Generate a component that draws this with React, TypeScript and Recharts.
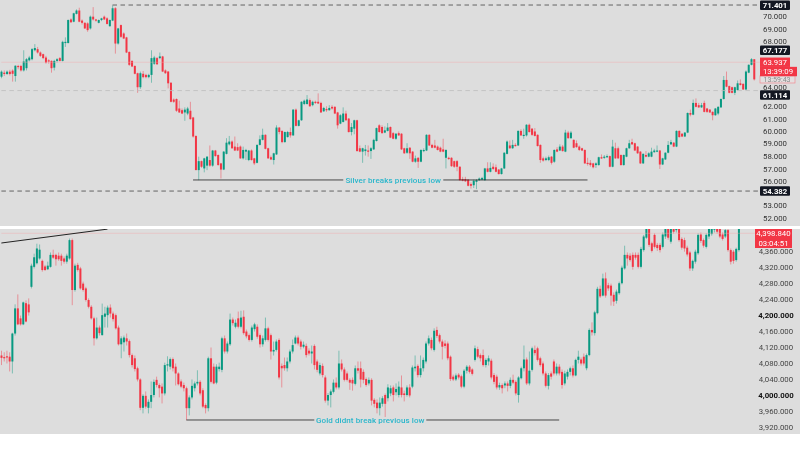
import { Bar, ComposedChart, ReferenceLine, XAxis, YAxis } from "recharts";

// rows are [open, close, high, low]
const SILVER_CANDLES = [
  [64.64,65.09,65.2,64.5],[65,64.88,65.2,64.7],[64.88,65.09,65.2,64.8],[65.09,64.88,65.25,64.75],[65.18,64.9,65.3,64.2],
  [64.7,65.62,65.65,64.2],[65.6,65.5,65.7,65.3],[65.6,65.2,65.7,65.1],[65.2,66,67,65.1],[65.4,66.2,66.3,65.2],
  [66.1,66.35,66.5,66],[66.2,67.1,67.2,66.1],[67,67.2,67.55,66.9],[67.1,66.8,67.3,66.7],[66.8,66.5,66.9,66.4],
  [66.65,66.3,66.7,66.2],[66.35,65.9,66.5,65.8],[66.1,66,66.2,65.8],[66.05,65.4,66.1,65],[65.45,66.05,66.15,65.2],
  [66.05,66.2,66.3,65.9],[66.3,66.05,66.4,66],[66.05,67.75,67.85,66],[67.65,67.75,68.15,67.3],[67.65,69.7,69.75,67.6],
  [69.75,69.5,69.85,69.45],[69.55,70.3,70.35,69.5],[70.25,70.55,70.65,70.2],[70.55,69.55,70.8,69.5],[69.65,69.45,69.75,69.3],
  [69.45,68.95,69.5,68.9],[69.4,68.8,69.5,68.65],[68.95,70,70.1,68.85],[70,69.75,70.85,69.65],[69.75,69.65,69.8,69.55],
  [69.45,69.7,69.75,69.4],[69.7,69.85,69.9,69.6],[70,69.75,70.1,69.7],[69.85,69.35,69.95,69.3],[69.15,69.7,69.75,69.1],
  [69.65,70.75,71,69.6],[70.75,67.6,70.85,66.7],[67.6,68.95,69,67.5],[69.25,68.2,69.3,68.1],[68.5,68.05,68.6,68],
  [68.15,66.8,68.2,66.75],[66.85,65.7,66.9,65.6],[66.05,65.55,66.1,65.5],[65.6,64.9,65.65,64.85],[64.95,63.7,65,63.2],
  [63.7,64.95,65.1,63.55],[64.9,64.6,65.15,64.5],[64.8,64.6,64.9,64.5],[64.6,64.8,64.9,64.5],[64.8,66.3,67,64.1],
  [65.8,66.35,66.5,65.7],[66.3,65.75,66.4,65.7],[66.3,66.45,66.8,66.2],[66.45,65.1,66.5,65.05],[65.2,64.95,65.3,64.9],
  [65.1,64.05,65.15,63.6],[64.1,62.4,64.15,62.35],[62.6,62.4,62.7,62.3],[62.65,61.6,62.7,61.5],[61.8,61.45,62.5,61.4],
  [61.65,61.35,61.8,61.3],[61.45,61.7,61.9,60.7],[61.35,61.8,61.95,61.2],[61.6,60.85,62.4,60.8],[61,59.3,61.05,59.2],
  [59.35,56.3,59.4,56.3],[56.3,57.1,57.5,55.4],[57.1,56.6,57.15,56.5],[56.45,57.35,57.4,56.1],[56.7,57.5,57.55,56.3],
  [57.2,56.7,58.5,56.6],[56.7,58.05,58.1,56.6],[58.05,57.55,58.1,57.5],[57.65,56.75,57.7,56.7],[56.9,56.35,56.95,55.55],
  [56.35,57.95,58,56.3],[57.75,58.75,59.15,57.7],[58.6,58.85,59.35,58.5],[58.85,58.25,58.95,58.2],[58.4,58.05,59.3,58],
  [58.35,58.05,58.7,58],[58.4,57.35,58.5,57.3],[57.35,58.1,58.4,57.25],[57.95,58.1,58.2,57.2],[57.2,58.05,58.1,57.1],
  [58.05,57.2,58.15,57.15],[57.35,56.9,57.4,56.75],[56.95,58.55,58.6,56.9],[58.55,59.05,59.4,58.5],[59,59.45,60,58.95],
  [59.45,58.2,59.5,58.15],[58.25,57.35,58.3,57.3],[57.45,57.25,57.6,57.2],[57.2,57.8,57.85,56.8],[57.7,60.1,60.3,57.65],
  [60.1,59.7,60.15,59.5],[59.8,58.8,59.85,58.7],[58.8,59.7,59.75,58.75],[59.25,59.7,59.8,59.2],[59.7,59.4,60.1,59.2],
  [59.4,61.7,61.75,59.35],[61.7,60.25,61.8,60.2],[60.25,60.75,60.8,60.2],[60.75,62.4,62.45,60.7],[62.2,62.5,62.6,62.1],
  [62.2,62.6,63,62.15],[62.55,62,62.7,61.95],[62.1,62.4,62.5,62],[62.4,62.3,62.5,62.2],[62.4,62.25,63.15,62.2],
  [62.3,61.45,62.4,61.4],[61.55,61.85,61.95,61.5],[61.75,61.65,62,61.5],[61.65,61.85,62.1,61.6],[61.95,61.8,62.1,61.7],
  [61.95,61.35,62,61.3],[61.45,60.3,61.5,60],[60.45,61.2,61.3,60.4],[60.6,61.35,61.9,60.55],[61.35,60.75,61.6,60.7],
  [60.9,59.7,60.95,59.65],[59.7,60.15,60.5,59.4],[60,60.75,60.8,59.5],[60.75,58,60.8,57.95],[58.25,57.95,58.5,57.9],
  [57.95,58.25,58.3,56.95],[58,58.15,58.55,57.6],[58.05,57.95,58.5,57.5],[58,58.25,58.35,57.3],[58.15,59,59.1,58.1],
  [58.9,60.05,60.1,58.85],[60.3,59.7,60.4,59.65],[60.15,59.6,60.3,59.55],[59.65,59.85,60.2,59.6],[59.8,60.1,60.5,59.75],
  [60.15,59.2,60.2,59.15],[59.6,59.1,59.7,59.05],[59.1,59.55,59.6,59],[59.6,59.4,59.75,59.35],[59.55,58.15,59.6,58.1],
  [58.25,57.8,58.3,57.75],[57.85,58.25,58.7,57.75],[58.3,57.8,58.35,57.3],[57.95,57.05,58,57],[57.05,57.35,57.6,56.95],
  [57.4,57.05,57.45,56.5],[57.05,58.1,58.15,57],[58.05,58.1,58.25,57.9],[58.05,59.45,59.5,58],[59.45,58.5,59.5,58.45],
  [58.55,58.3,58.65,58.25],[58.5,58.3,59,58.25],[58.4,58.1,58.5,58.05],[58.3,57.95,58.4,57.9],[58.15,57.95,59.1,57.9],
  [57.4,58.1,58.15,56.45],[57.4,57.3,57.5,57.2],[57.4,56.65,57.45,56.6],[57.1,56.6,57.15,56.5],[57.1,56.6,57.2,56.2],
  [56.6,55.4,56.65,55.35],[55.5,55.35,55.7,55.3],[55.5,55.3,55.7,55.25],[55.45,54.9,55.5,54.85],[55.05,54.9,55.2,54.65],
  [54.95,55.35,55.45,54.7],[55.25,55.4,55.5,54.6],[55.4,55.55,55.65,55.35],[55.45,55.6,55.7,55.4],[55.4,56.45,56.5,55.35],
  [56.45,56.15,57,56.1],[56.15,56.5,57,56.1],[56.6,56.4,56.9,56.3],[56.55,56.15,56.8,56.1],[56.35,55.95,56.4,55.9],
  [55.95,56.45,56.5,55.9],[56.45,57.85,57.9,56.4],[57.75,58.85,58.95,57.7],[58.5,58.25,58.95,58.2],[58.25,58.55,59,58.2],
  [58.55,58.5,58.7,58.4],[58.5,59.8,59.85,58.45],[59.8,59.4,59.95,59.35],[59.4,59.45,60,59.1],[59.4,60.35,60.4,59.3],
  [60.35,59.7,60.45,59.65],[60,59.45,60.05,59.35],[59.75,59.35,60.05,59.3],[59.45,58.45,59.5,58.4],[58.55,57.2,58.6,56.95],
  [57.35,57.15,57.5,57.05],[57.2,57.35,57.5,57.1],[57.2,57.45,57.6,57.1],[57.5,56.95,57.55,56.8],[57.05,58.1,58.15,56.95],
  [58.15,57.95,58.35,57.9],[58.05,58.4,58.6,58],[58.4,58,58.55,57.95],[57.95,59.65,59.9,57.9],[59.65,59.15,59.8,59.1],
  [59.15,59.65,59.8,59.1],[59,58.3,59.05,58.25],[58.7,58.35,58.95,58.3],[58.4,58.1,58.5,58],[58.25,58.05,58.3,58],
  [58.1,56.9,58.15,56.85],[56.95,56.85,57.4,56.7],[56.95,56.75,57.2,56.6],[56.9,56.55,56.95,56.45],[56.75,56.9,57,56.5],
  [56.75,57.45,57.5,56.7],[57.45,57.35,57.7,57.3],[57.4,57.5,57.65,57.3],[57.5,57.55,57.7,57.4],[57.55,56.6,57.6,56.55],
  [56.6,58.4,59,56.55],[58.25,57.35,58.75,57.3],[58.25,57.35,58.4,57.3],[57.65,56.75,57.7,56.7],[56.75,57.65,57.7,56.7],
  [57.5,58.25,58.3,57.45],[58.25,58.7,59,58.2],[58.8,58.6,59.1,58.55],[58.7,58.05,58.75,58],[58.4,57.8,58.45,57.75],
  [57.95,56.9,58,56.85],[56.9,57.75,57.8,56.85],[57.65,57.5,58,57.45],[57.5,57.8,57.9,57.45],[57.5,57.95,58.3,57.45],
  [57.9,58.05,58.2,57.85],[57.95,58.05,58.5,57.9],[58.05,56.8,58.1,56.4],[56.8,57.35,57.4,56.75],[57.25,57.85,57.9,57.2],
  [57.85,58.55,58.9,57.8],[58.6,58.8,59,58.55],[58.75,58.4,58.8,58.35],[58.4,59.8,59.85,58.35],[59.8,59.25,59.85,59.2],
  [59.55,59.3,59.6,59.25],[59.3,59.65,59.7,59.25],[59.65,61.4,61.45,59.6],[61.4,61.25,61.7,61.1],[61.25,62.3,62.6,61.2],
  [62.3,61.95,62.7,61.9],[62.1,61.9,62.3,61.85],[61.9,62.1,62.3,61.85],[62.3,61.5,62.5,61.45],[61.8,61.5,61.85,61.4],
  [61.7,61.45,61.75,61.4],[61.5,61.2,61.55,60.75],[61.2,61.8,61.85,61.15],[61.35,61.95,62,61.2],[61.9,62.65,62.7,61.85],
  [62.65,64.35,64.7,62.6],[64.35,63.75,65.1,63.7],[63.8,63.2,63.85,63.15],[63.7,63.2,63.75,63.15],[63.2,63.7,63.75,63],
  [63.45,64.05,64.3,63.4],[64.05,63.9,64.4,63.85],[64,63.5,64.05,63.45],[63.5,65.1,65.2,63.45],[65,65.7,65.75,64.95],
  [65.7,66.2,66.3,65.65],[66.2,64.4,66.2,64.3],
];

const GOLD_CANDLES = [
  [4100,4094,4112,4076],[4096,4094,4108,4085],[4098,4096,4112,4080],[4097,4085,4108,4060],[4085,4155,4157,4055],
  [4155,4218,4228,4150],[4218,4178,4253,4176],[4193,4178,4200,4175],[4178,4233,4235,4176],[4231,4185,4238,4183],
  [4228,4208,4243,4200],[4272,4325,4330,4268],[4322,4346,4355,4318],[4331,4368,4380,4328],[4343,4365,4378,4340],
  [4337,4314,4340,4310],[4323,4314,4327,4312],[4316,4325,4335,4314],[4322,4352,4358,4320],[4352,4345,4365,4342],
  [4352,4341,4355,4325],[4350,4341,4358,4337],[4350,4337,4355,4325],[4343,4335,4348,4330],[4335,4350,4355,4330],
  [4343,4389,4393,4340],[4389,4264,4393,4226],[4264,4325,4330,4260],[4327,4314,4332,4310],[4318,4268,4322,4265],
  [4280,4264,4285,4260],[4268,4239,4272,4235],[4239,4222,4243,4218],[4222,4193,4226,4190],[4193,4143,4197,4125],
  [4143,4170,4195,4140],[4170,4156,4175,4150],[4151,4201,4230,4150],[4197,4205,4222,4170],[4201,4220,4225,4170],
  [4220,4205,4228,4195],[4205,4191,4210,4185],[4201,4168,4205,4165],[4170,4128,4175,4125],[4128,4143,4148,4093],
  [4133,4145,4150,4110],[4143,4135,4155,4125],[4136,4101,4140,4095],[4101,4076,4105,4070],[4093,4066,4100,4060],
  [4068,4040,4072,4035],[4040,3969,4043,3963],[3969,3999,4003,3955],[3999,3972,4010,3967],[3969,3984,3990,3955],
  [3984,4001,4035,3968],[4001,4034,4040,3995],[4039,4026,4047,4020],[4026,4018,4030,3995],[4022,4005,4030,3980],
  [4005,4076,4082,4000],[4076,4078,4098,4060],[4072,4091,4095,4065],[4091,4068,4095,4060],[4072,4055,4080,4025],
  [4055,4028,4058,4025],[4035,4022,4040,4018],[4026,4018,4032,4010],[4018,3968,4022,3938],[3968,3995,4000,3950],
  [3995,4024,4040,3990],[4018,4030,4035,4010],[4030,4034,4063,4025],[4034,4005,4038,4000],[4013,3972,4018,3968],
  [3976,3968,3980,3955],[3968,4093,4097,3960],[4093,4034,4120,4030],[4072,4030,4080,4028],[4032,4072,4078,4028],
  [4066,4072,4082,4060],[4064,4143,4147,4058],[4143,4110,4150,4105],[4110,4130,4135,4105],[4128,4190,4205,4124],
  [4190,4181,4195,4175],[4172,4182,4190,4168],[4193,4172,4210,4168],[4172,4195,4212,4168],[4197,4156,4213,4152],
  [4160,4148,4165,4143],[4151,4139,4155,4135],[4139,4170,4175,4135],[4166,4178,4182,4160],[4172,4147,4178,4142],
  [4151,4128,4155,4120],[4128,4143,4150,4122],[4139,4168,4195,4135],[4168,4139,4172,4135],[4151,4110,4155,4090],
  [4110,4114,4135,4100],[4114,4135,4140,4110],[4139,4045,4143,4040],[4074,4068,4080,4020],[4076,4068,4095,4062],
  [4068,4085,4095,4060],[4085,4110,4115,4080],[4110,4126,4140,4105],[4130,4145,4150,4128],[4145,4130,4150,4125],
  [4135,4122,4140,4115],[4122,4127,4135,4118],[4124,4101,4130,4095],[4112,4105,4118,4100],[4105,4110,4125,4080],
  [4124,4076,4128,4065],[4085,4064,4090,4058],[4055,4076,4082,4050],[4074,4051,4080,4045],[4045,3987,4050,3982],
  [3987,4001,4006,3975],[4001,4010,4015,3970],[4009,4032,4040,4005],[4032,4020,4045,4015],[4020,4080,4112,4015],
  [4080,4065,4090,4060],[4065,4039,4070,4035],[4055,4039,4060,4035],[4039,4032,4043,4014],[4039,4030,4045,4012],
  [4029,4068,4075,4025],[4068,4062,4085,4055],[4068,4040,4085,4020],[4059,4039,4065,4030],[4041,4026,4045,4022],
  [4030,4039,4045,4025],[4039,3987,4043,3975],[3989,3979,3993,3970],[3982,3968,3990,3955],[3968,3982,3995,3950],
  [3979,3993,3998,3972],[4001,3979,4005,3944],[3993,4020,4028,3985],[4005,4018,4025,3998],[4020,4001,4025,3985],
  [4008,4016,4030,4000],[4001,4022,4035,3995],[4020,4001,4050,3995],[4005,4001,4012,3985],[4001,4020,4025,3997],
  [4020,4000,4028,3995],[4022,4070,4075,4018],[4068,4072,4100,4060],[4074,4051,4078,4045],[4051,4068,4100,4045],
  [4068,4089,4095,4060],[4085,4130,4135,4080],[4130,4143,4150,4125],[4139,4118,4145,4113],[4114,4162,4168,4110],
  [4164,4149,4172,4144],[4151,4135,4155,4130],[4135,4122,4140,4090],[4130,4124,4138,4118],[4130,4093,4135,4088],
  [4097,4041,4100,4036],[4047,4040,4052,4036],[4040,4050,4055,4036],[4052,4045,4056,4040],[4048,4022,4052,4018],
  [4022,4062,4066,4018],[4062,4072,4076,4055],[4072,4059,4076,4055],[4065,4054,4068,4050],[4089,4118,4125,4085],
  [4116,4097,4122,4093],[4101,4093,4105,4085],[4101,4076,4115,4072],[4076,4089,4093,4070],[4085,4093,4100,4075],
  [4087,4045,4092,4040],[4051,4034,4056,4028],[4047,4020,4052,4015],[4020,4026,4032,4014],[4026,4018,4030,4005],
  [4025,4030,4035,4018],[4030,4024,4035,4010],[4024,4039,4045,4018],[4039,4032,4052,4028],[4034,4005,4038,4000],
  [4001,4045,4048,3982],[4043,4068,4072,4040],[4068,4090,4125,4060],[4090,4030,4095,4026],[4030,4062,4110,4025],
  [4064,4118,4122,4060],[4114,4106,4125,4100],[4118,4089,4122,4085],[4093,4076,4097,4072],[4080,4055,4085,4050],
  [4055,4024,4060,4020],[4024,4051,4056,4015],[4055,4047,4060,4040],[4085,4055,4090,4050],[4055,4072,4080,4050],
  [4072,4055,4078,4050],[4059,4026,4065,4017],[4030,4055,4062,4025],[4047,4059,4065,4040],[4059,4068,4072,4050],
  [4068,4050,4075,4045],[4050,4089,4092,4048],[4089,4097,4112,4080],[4090,4080,4095,4075],[4097,4080,4105,4075],
  [4068,4101,4105,4063],[4101,4164,4168,4098],[4164,4158,4183,4150],[4156,4208,4212,4150],[4206,4267,4272,4203],
  [4267,4248,4275,4244],[4250,4293,4305,4248],[4293,4250,4308,4245],[4276,4268,4282,4262],[4275,4250,4280,4225],
  [4252,4235,4258,4224],[4237,4260,4265,4230],[4256,4281,4285,4252],[4281,4320,4325,4278],[4318,4352,4375,4315],
  [4352,4343,4358,4325],[4350,4339,4356,4335],[4352,4322,4358,4315],[4352,4345,4358,4340],[4352,4322,4358,4318],
  [4322,4367,4372,4318],[4364,4398,4402,4360],[4395,4430,4435,4392],[4427,4377,4432,4372],[4381,4362,4385,4358],
  [4402,4372,4406,4368],[4377,4369,4382,4362],[4377,4364,4382,4358],[4372,4403,4408,4368],[4398,4418,4430,4392],
  [4418,4395,4430,4390],[4385,4417,4430,4380],[4418,4410,4430,4405],[4414,4420,4430,4408],[4417,4389,4425,4385],
  [4392,4370,4396,4365],[4389,4368,4395,4360],[4370,4353,4375,4348],[4358,4318,4362,4312],[4318,4337,4340,4312],
  [4335,4360,4365,4330],[4356,4402,4406,4352],[4403,4387,4408,4382],[4389,4375,4393,4370],[4372,4402,4406,4368],
  [4398,4417,4430,4392],[4404,4417,4430,4400],[4415,4418,4430,4408],[4417,4410,4430,4405],[4418,4398,4430,4394],
  [4403,4392,4408,4388],[4398,4414,4420,4394],[4414,4364,4420,4360],[4364,4335,4368,4328],[4360,4337,4364,4330],
  [4339,4367,4370,4335],[4364,4430,4435,4360],
];

// the price axis of the top panel is not evenly spaced, so labels and their places are listed apart
const SILVER_TICK_VALUES = [70, 68.9, 67.83, 63.72, 61.97, 60.86, 59.79, 58.66, 57.49, 56.37, 55.26, 53.17, 51.98, 71.02, 67, 63, 54.44, 64.4, 65.93, 65.1];
const SILVER_TICK_TEXT = ["70.000", "69.000", "68.000", "64.000", "62.000", "61.000", "60.000", "59.000", "58.000", "57.000", "56.000", "53.000", "52.000", "71.401", "67.177", "61.114", "54.382", "13:59:43", "63.937", "13:39:09"];
const BLACK_TAGS = ["71.401", "67.177", "61.114", "54.382"];
const RED_TAGS = ["63.937", "13:39:09"];
const PALE_TAGS = ["13:59:43"];

const GOLD_TICK_VALUES = [4360, 4320, 4280, 4240, 4200, 4160, 4120, 4080, 4040, 4000, 3960, 3920];
const GOLD_TICK_TEXT = ["4,360.000", "4,320.000", "4,280.000", "4,240.000", "4,200.000", "4,160.000", "4,120.000", "4,080.000", "4,040.000", "4,000.000", "3,960.000", "3,920.000"];
const GOLD_STRONG_TICKS = ["4,200.000", "4,000.000"];

const UP = "#089981";
const DOWN = "#f23645";
const FONT = "Roboto, sans-serif";

function toRows(candles: number[][], slots: number) {
  const rows = candles.map(([open, close, high, low], i) => ({ i, open, close, high, low, range: [low, high] }));
  for (let i = candles.length; i < slots; i++) rows.push({ i, range: null } as any);
  return rows;
}

function Candle(props: any) {
  const { x, y, width, height, payload } = props;
  if (payload.range == null) return null;
  const { open, close, high, low } = payload;
  const cx = x + width / 2;
  const perUnit = height / (high - low);
  const top = y + (high - Math.max(open, close)) * perUnit;
  const bodyHeight = Math.max(Math.abs(open - close) * perUnit, 1.2);
  const color = close >= open ? UP : DOWN;
  return (
    <g>
      <line x1={cx} x2={cx} y1={y} y2={y + height} stroke={color} strokeOpacity={0.45} strokeWidth={1} />
      <rect x={cx - 1} y={top} width={2} height={bodyHeight} fill={color} />
    </g>
  );
}

function SilverTick(props: any) {
  const { y, payload } = props;
  const text = SILVER_TICK_TEXT[SILVER_TICK_VALUES.indexOf(payload.value)];
  const common = { fontFamily: FONT, fontSize: 7.8, textAnchor: "middle" as const };
  if (BLACK_TAGS.includes(text)) {
    return (
      <g>
        <rect x={760} y={y - 4.7} width={30} height={9.4} rx={1} fill="#131722" />
        <text x={775} y={y + 2.7} fill="#fff" fontWeight={700} {...common}>{text}</text>
      </g>
    );
  }
  if (RED_TAGS.includes(text)) {
    const wide = text.includes(":");
    return (
      <g>
        <rect x={760} y={y - 4.7} width={wide ? 37 : 30} height={9.4} fill={DOWN} />
        <text x={wide ? 778 : 775} y={y + 2.7} fill="#fff" {...common}>{text}</text>
      </g>
    );
  }
  if (PALE_TAGS.includes(text)) {
    return (
      <g>
        <rect x={760} y={y - 3.6} width={35} height={7.2} fill="#e4e0e0" stroke="#f28a92" strokeWidth={0.7} />
        <text x={777} y={y + 2.4} fill="#8a8a8a" fontFamily={FONT} fontSize={7} textAnchor="middle">{text}</text>
      </g>
    );
  }
  return <text x={775} y={y + 2.7} fill="#333" {...common}>{text}</text>;
}

function GoldTick(props: any) {
  const { y, payload } = props;
  const text = GOLD_TICK_TEXT[GOLD_TICK_VALUES.indexOf(payload.value)];
  return (
    <text x={776} y={y + 2.7} fill={GOLD_STRONG_TICKS.includes(text) ? "#111" : "#444"} fontWeight={GOLD_STRONG_TICKS.includes(text) ? 700 : 400} fontFamily={FONT} fontSize={7.8} textAnchor="middle">
      {text}
    </text>
  );
}

function Callout(props: any) {
  const { viewBox, text, width, shift } = props;
  const cx = viewBox.x + viewBox.width / 2 + shift;
  return (
    <g>
      <rect x={cx - width / 2 - 2} y={viewBox.y - 3} width={width + 4} height={6} fill="#dddddd" />
      <text x={cx} y={viewBox.y + 2.8} textAnchor="middle" fontFamily={FONT} fontWeight={500} fontSize={8} letterSpacing={0.1} fill="#29b6cb">
        {text}
      </text>
    </g>
  );
}

const silverRows = toRows(SILVER_CANDLES, 288);
const goldRows = toRows(GOLD_CANDLES, 294);

export default function App() {
  return (
    <div style={{ position: "absolute", left: 0, top: 0, width: 800, height: 450, background: "#fff", filter: "blur(0.5px)" }}>
      <div style={{ position: "absolute", left: 0, top: 0, width: 800, height: 226, background: "#dddddd" }}>
        <ComposedChart width={800} height={226} data={silverRows} margin={{ top: 0, right: 0, bottom: 0, left: 0 }} barCategoryGap={0}>
          <XAxis dataKey="i" hide />
          <YAxis
            orientation="right"
            mirror
            type="number"
            domain={[51.31, 71.488]}
            allowDataOverflow
            ticks={SILVER_TICK_VALUES}
            interval={0}
            axisLine={false}
            tickLine={false}
            tick={(p: any) => <SilverTick {...p} />}
          />
          <ReferenceLine stroke="#f2a6ab" strokeOpacity={0.6} strokeWidth={0.7} segment={[{ x: 0, y: 65.93 }, { x: 273, y: 65.93 }]} />
          <ReferenceLine stroke="#bdbdbd" strokeWidth={0.8} strokeDasharray="4.5 3.5" segment={[{ x: 0, y: 63.4 }, { x: 273, y: 63.4 }]} />
          <ReferenceLine stroke="#444" strokeWidth={0.8} strokeDasharray="4.5 3.5" segment={[{ x: 40, y: 71.04 }, { x: 273, y: 71.04 }]} />
          <ReferenceLine stroke="#444" strokeWidth={0.8} strokeDasharray="4.5 3.5" segment={[{ x: 0, y: 54.43 }, { x: 273, y: 54.43 }]} />
          <ReferenceLine
            stroke="#222"
            strokeWidth={0.8}
            segment={[{ x: 69, y: 55.42 }, { x: 211, y: 55.42 }]}
            label={<Callout text="Silver breaks previous low" width={96} shift={3} />}
          />
          <Bar dataKey="range" isAnimationActive={false} shape={<Candle />} />
        </ComposedChart>
      </div>
      <div style={{ position: "absolute", left: 0, top: 229, width: 800, height: 205, background: "#dddddd" }}>
        <ComposedChart width={800} height={205} data={goldRows} margin={{ top: 0, right: 0, bottom: 0, left: 0 }} barCategoryGap={0}>
          <XAxis dataKey="i" hide />
          <YAxis
            orientation="right"
            mirror
            type="number"
            domain={[3903.4, 4416.8]}
            allowDataOverflow
            ticks={GOLD_TICK_VALUES}
            interval={0}
            axisLine={false}
            tickLine={false}
            tick={(p: any) => <GoldTick {...p} />}
          />
          <ReferenceLine stroke="#f2a6ab" strokeOpacity={0.6} strokeWidth={0.7} segment={[{ x: 0, y: 4406 }, { x: 277, y: 4406 }]} />
          <ReferenceLine stroke="#222" strokeWidth={1} segment={[{ x: 0, y: 4381.7 }, { x: 39, y: 4416.5 }]} />
          <ReferenceLine
            stroke="#222"
            strokeWidth={0.8}
            segment={[{ x: 68, y: 3938.5 }, { x: 205, y: 3938.5 }]}
            label={<Callout text="Gold didnt break previous low" width={108} shift={-2.5} />}
          />
          <Bar dataKey="range" isAnimationActive={false} shape={<Candle />} />
        </ComposedChart>
        <div style={{ position: "absolute", left: 755, top: 0, width: 37, height: 19, background: DOWN, color: "#fff", fontFamily: FONT, fontSize: 7.8, lineHeight: "9.5px", textAlign: "center" }}>
          <div>4,398.840</div>
          <div>03:04:51</div>
        </div>
      </div>
    </div>
  );
}
